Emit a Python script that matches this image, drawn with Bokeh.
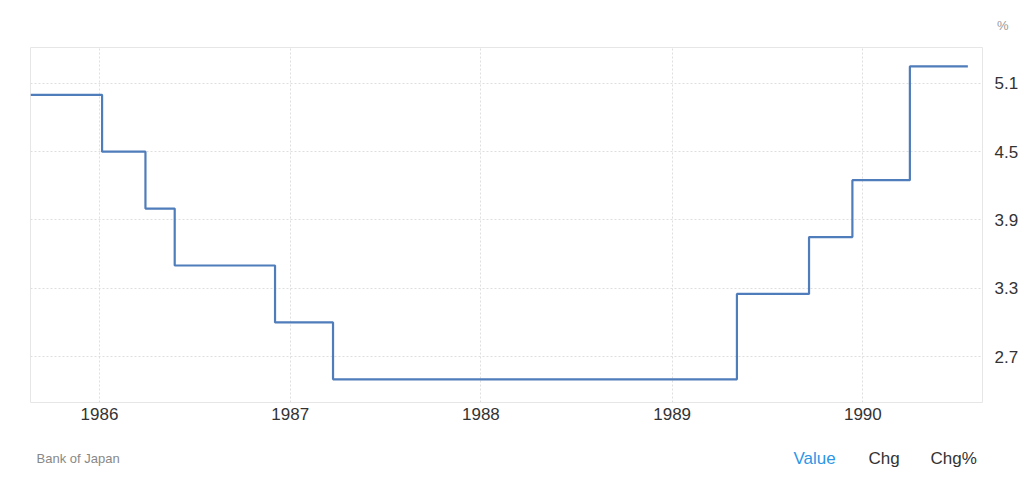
from bokeh.plotting import figure
from bokeh.layouts import column
from bokeh.models import Range1d, FixedTicker, DatetimeTickFormatter, ColumnDataSource
from bokeh.core.properties import value
from bokeh.embed import file_html
from bokeh.resources import INLINE
import pandas as pd

# Tasa de descuento del Banco de Japón (fechas)
fechas = ["1985-08-22", "1986-01-06", "1986-03-30", "1986-05-25", "1986-12-03",
          "1987-03-24", "1989-05-05", "1989-09-20", "1989-12-12", "1990-04-01",
          "1990-07-21"]
tasas = [5.0, 4.5, 4.0, 3.5, 3.0, 2.5, 3.25, 3.75, 4.25, 5.25, 5.25]
anios = [1986, 1987, 1988, 1989, 1990]
ticks_y = [2.7, 3.3, 3.9, 4.5, 5.1]

fuente = "Liberation Sans"

# Gráfico principal
x = pd.to_datetime(fechas)
p = figure(width=1024, height=430, x_axis_type="datetime", y_axis_location="right",
           output_backend="svg", toolbar_location=None, title="%",
           x_range=Range1d(pd.Timestamp("1985-08-22"), pd.Timestamp("1990-08-18")),
           y_range=Range1d(2.296, 5.416),
           min_border_left=30, min_border_right=42, min_border_top=47, min_border_bottom=28)

p.step(x, tasas, mode="after", line_color="#4f7cba", line_width=2.2)

# unidad arriba a la derecha
p.title.align = "right"
p.title.offset = -26
p.title.standoff = 30
p.title.text_font = fuente
p.title.text_font_size = "13px"
p.title.text_font_style = "normal"
p.title.text_color = "#999999"

p.xaxis.ticker = FixedTicker(ticks=[pd.Timestamp(f"{a}-01-01").value / 1e6 for a in anios])
p.xaxis.formatter = DatetimeTickFormatter(years="%Y", months="%Y", days="%Y")
p.yaxis.ticker = FixedTicker(ticks=ticks_y)
for ax in (p.xaxis, p.yaxis):
    ax.axis_line_color = None
    ax.major_tick_line_color = None
    ax.minor_tick_line_color = None
    ax.major_label_text_font = fuente
    ax.major_label_text_font_size = "17px"
    ax.major_label_text_color = "#333333"
p.xaxis.major_label_standoff = -1
p.yaxis.major_label_standoff = 6

p.grid.grid_line_color = "#dedede"
p.grid.grid_line_dash = "2 2"
p.outline_line_color = "#e6e6e6"
p.outline_line_width = 1

# Pie con la fuente y los botones (la columna alinea este marco con el del gráfico: 30..982 px)
pie_textos = ["Bank of Japan", "Value", "Chg", "Chg%"]
pie_x = [36, 793, 868, 930]
pie_tam = ["13px", "17px", "17px", "17px"]
pie_color = ["#888888", "#2d96e6", "#333333", "#333333"]

abajo = figure(width=1024, height=62, x_range=Range1d(30, 982), y_range=Range1d(62, 0),
               output_backend="svg", toolbar_location=None,
               min_border_left=30, min_border_right=42, min_border_top=0, min_border_bottom=0)
abajo.axis.visible = False
abajo.grid.visible = False
abajo.outline_line_color = None
abajo.text(x="x", y="y", text="t", text_font=value(fuente), text_font_size="s",
           text_color="c", text_baseline="middle",
           source=ColumnDataSource(dict(x=pie_x, y=[28] * 4, t=pie_textos,
                                        s=pie_tam, c=pie_color)))

open("out.html", "w").write(file_html(column(p, abajo), INLINE))
